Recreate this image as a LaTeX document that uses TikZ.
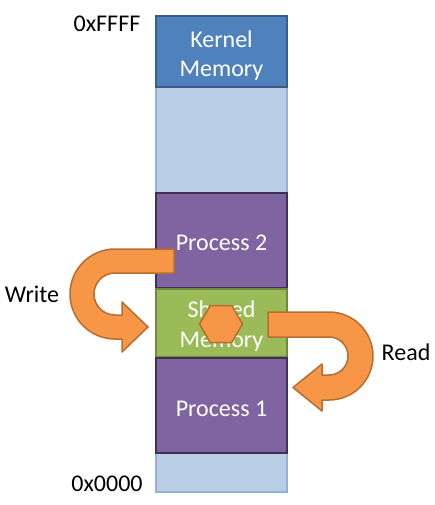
\documentclass[tikz,border=0pt]{standalone}
\usepackage{fontspec}
\setmainfont{Carlito}
\begin{document}
\begin{tikzpicture}[x=1pt,y=-1pt,
  every node/.style={font=\fontsize{24}{29.5}\selectfont},
  membox/.style={draw, line width=2pt, minimum width=131pt, inner sep=0pt},
  memtext/.style={align=center, text=white, inner sep=0pt},
  lbl/.style={text=black, inner sep=0pt},
  orangeshape/.style={fill=orangefill, draw=orangedraw, line width=1.5pt, line join=round}
]
\definecolor{colfill}{HTML}{B9CDE5}
\definecolor{coldraw}{HTML}{95B3D7}
\definecolor{kfill}{HTML}{4F81BD}
\definecolor{kdraw}{HTML}{385D8A}
\definecolor{pfill}{HTML}{8064A2}
\definecolor{pdraw}{HTML}{3F3151}
\definecolor{gfill}{HTML}{9BBB59}
\definecolor{gdraw}{HTML}{71893F}
\definecolor{orangefill}{HTML}{F79646}
\definecolor{orangedraw}{HTML}{B66D31}
\useasboundingbox (0,0) rectangle (435,505);
% column
\node[draw=coldraw, fill=colfill, line width=2pt, minimum width=131pt, minimum height=476pt, inner sep=0pt] (col) at (221.5,254) {};
% boxes
\node[membox, fill=kfill, draw=kdraw, minimum height=71pt] (kernel) at (221.5,51.5) {};
\node[membox, fill=pfill, draw=pdraw, minimum height=95pt] (p2) at (221.5,240.5) {};
\node[membox, fill=gfill, draw=gdraw, minimum height=68pt] (shm) at (221.5,323) {};
\node[membox, fill=pfill, draw=pdraw, minimum height=95pt] (p1) at (221.5,405.5) {};
\node[memtext] (kerneltext) at ([yshift=-4pt]kernel.center) {Kernel\\Memory};
\node[memtext] (p2text) at ([yshift=-2pt]p2.center) {Process 2};
\node[memtext] (shmtext) at ([yshift=-3pt]shm.center) {Shared\\Memory};
\node[memtext] (p1text) at ([yshift=-3pt]p1.center) {Process 1};
% labels
\node[lbl] (hi) at (107,24) {0xFFFF};
\node[lbl] (lo) at (107,484) {0x0000};
\node[lbl] (write) at (32,294) {Write};
\node[lbl] (read) at (406,352) {Read};
% write arrow
\draw[orangeshape] (174,249) -- (115,249) arc[start angle=270, end angle=90, radius=45]
  -- (122,339) -- (122,352) -- (148,327) -- (122,302) -- (122,315) -- (115,315)
  arc[start angle=90, end angle=270, radius=21] -- (174,273) -- cycle;
% hexagon
\draw[orangeshape] (199.5,324) -- (210.25,305.5) -- (231.75,305.5) -- (242.5,324) -- (231.75,342.5) -- (210.25,342.5) -- cycle;
% read arrow
\draw[orangeshape] (268,312) -- (329,312) arc[start angle=-90, end angle=90, radius=44]
  -- (322,400) -- (322,411) -- (293,387.5) -- (322,364) -- (322,375) -- (329,375)
  arc[start angle=90, end angle=-90, radius=19] -- (268,337) -- cycle;
\end{tikzpicture}
\end{document}
